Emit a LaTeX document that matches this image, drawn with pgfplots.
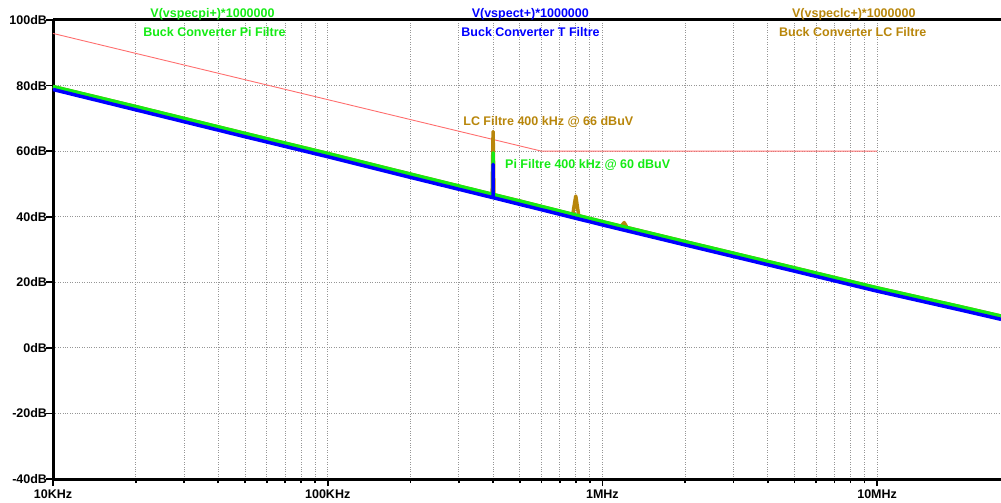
\documentclass[border=0pt]{standalone}
\usepackage{pgfplots}
\pgfplotsset{compat=1.18}
\usepackage{fontspec}
\setmainfont{Liberation Sans}
\definecolor{cgreen}{RGB}{20,235,20}
\definecolor{cblue}{RGB}{0,0,255}
\definecolor{cgold}{RGB}{184,134,11}
\definecolor{cred}{RGB}{255,110,110}
\definecolor{cgrid}{RGB}{150,150,150}
\begin{document}
\begin{tikzpicture}
\begin{axis}[
  name=ax,
  scale only axis,
  width=948pt, height=459pt,
  xmode=log,
  xmin=1e4, xmax=2.826e7,
  ymin=-40, ymax=100,
  axis lines*=left,
  axis line style={line width=3pt, black},
  xtick={1e4,1e5,1e6,1e7},
  xticklabels={10KHz,100KHz,1MHz,10MHz},
  ytick={-40,-20,0,20,40,60,80,100},
  yticklabels={-40dB,-20dB,0dB,20dB,40dB,60dB,80dB,100dB},
  tick label style={font=\bfseries\fontsize{12.5}{14}\selectfont, black},
  yticklabel style={xshift=4.5pt},
  tick align=outside,
  major tick length=7pt,
  minor tick length=4pt,
  every tick/.style={black, line width=1.8pt},
  grid=both,
  major grid style={cgrid, dotted, line width=1pt},
  minor grid style={cgrid, dotted, line width=1pt},
  clip=false,
  line join=round,
]
% limit line
\addplot[cred, line width=0.9pt] coordinates {(1e4,95.9) (6e5,60) (1e7,60)};
% LC filter
\addplot[cgold, line width=3.5pt] coordinates {
(1e4,79.7) (2e4,73.6) (5e4,65.4) (1e5,59.3) (2e5,53.0) (3.9e5,47.0)
(3.97e5,46.9) (4e5,66) (4.03e5,46.7) (5e5,44.8)
(7.8e5,40.7) (8e5,46.3) (8.2e5,40.3) (1e6,38.5)
(1.17e6,37.1) (1.2e6,38.2) (1.23e6,36.7)
(2e6,32.4) (5e6,24.4) (1e7,18.3) (2e7,12.6) (2.826e7,9.7)};
% Pi filter
\addplot[cgreen, line width=3.5pt] coordinates {
(1e4,79.7) (2e4,73.6) (5e4,65.4) (1e5,59.3) (2e5,53.0) (4e5,46.8)
(4e5,59.5) (4e5,46.8) (1e6,38.5) (2e6,32.4) (5e6,24.4) (1e7,18.3) (2e7,12.6) (2.826e7,9.7)};
% T filter
\addplot[cblue, line width=3.5pt] coordinates {
(1e4,78.8) (2e4,72.6) (5e4,64.4) (1e5,58.3) (2e5,52.0) (4e5,45.8)
(4e5,56.0) (4e5,45.8) (1e6,37.5) (2e6,31.4) (5e6,23.4) (1e7,17.3) (2e7,11.6) (2.826e7,8.7)};
\end{axis}
\draw[line width=3pt, black] (ax.north west) -- (ax.north east);
\begin{scope}[every node/.style={font=\bfseries\fontsize{12.5}{14}\selectfont, inner sep=0pt, anchor=base}]
\node[text=cgreen] at ([shift={(159.5pt,2.5pt)}]ax.north west) {V(vspecpi+)*1000000};
\node[text=cgreen] at ([shift={(161.5pt,-16.7pt)}]ax.north west) {Buck Converter Pi Filtre};
\node[text=cblue] at ([shift={(477.3pt,2.5pt)}]ax.north west) {V(vspect+)*1000000};
\node[text=cblue] at ([shift={(477.5pt,-16.7pt)}]ax.north west) {Buck Converter T Filtre};
\node[text=cgold] at ([shift={(800.8pt,2.5pt)}]ax.north west) {V(vspeclc+)*1000000};
\node[text=cgold] at ([shift={(799.7pt,-16.7pt)}]ax.north west) {Buck Converter LC Filtre};
\node[text=cgold] at ([shift={(495.3pt,-105.7pt)}]ax.north west) {LC Filtre 400 kHz @ 66 dBuV};
\node[text=cgreen, anchor=base west] at ([shift={(452pt,-148.3pt)}]ax.north west) {Pi Filtre 400 kHz @ 60 dBuV};
\end{scope}
\pgfresetboundingbox
\path[use as bounding box] ([shift={(-53pt,-23pt)}]ax.south west) rectangle ([shift={(0pt,20pt)}]ax.north east);
\end{tikzpicture}
\end{document}
